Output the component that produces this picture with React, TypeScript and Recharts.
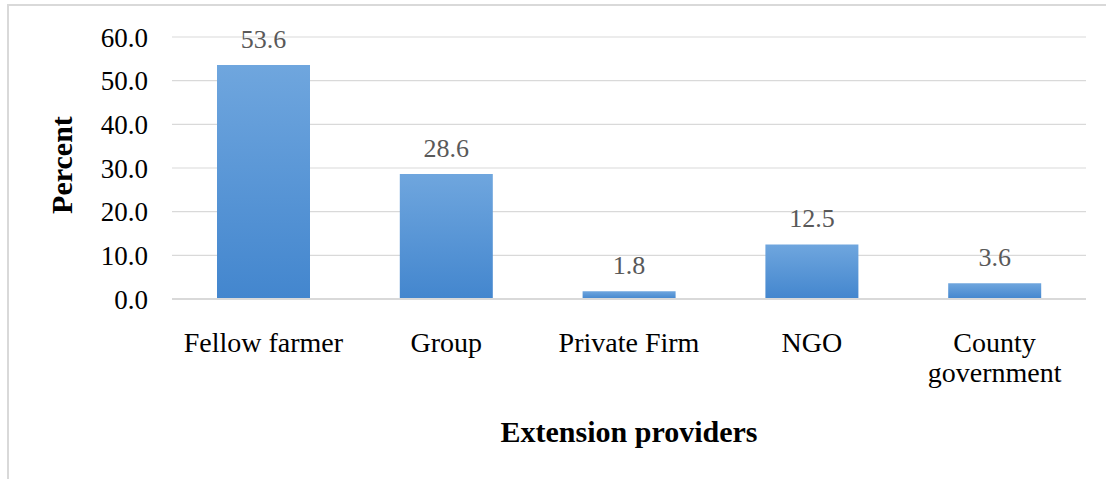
import { BarChart, Bar, XAxis, YAxis, CartesianGrid, LabelList } from "recharts";

const providers = ["Fellow farmer", "Group", "Private Firm", "NGO", "County government"];
const percents = [53.6, 28.6, 1.8, 12.5, 3.6];
const yTicks = [0, 10, 20, 30, 40, 50, 60];

const data = providers.map((name, i) => ({ name, value: percents[i] }));

const FONT = "'Liberation Serif', 'Times New Roman', serif";

function CategoryTick(props: any) {
  const { x, y, payload } = props;
  const words: string[] =
    payload.value === "County government" ? ["County", "government"] : [payload.value];
  return (
    <text x={x} y={y} textAnchor="middle" fill="#000" fontFamily={FONT} fontSize={28}>
      {words.map((w, i) => (
        <tspan key={w} x={x} dy={i === 0 ? 53 : 30}>
          {w}
        </tspan>
      ))}
    </text>
  );
}

export default function App() {
  return (
    <div style={{ position: "absolute", left: 0, top: 0, width: 1106, height: 479, background: "#fff" }}>
      <div
        style={{
          position: "absolute",
          left: 7,
          top: 4,
          width: 1110,
          height: 490,
          border: "2px solid #d9d9d9",
          boxSizing: "border-box",
        }}
      />
      <BarChart
        width={1106}
        height={479}
        data={data}
        margin={{ top: 37, right: 20, bottom: 150, left: 0 }}
        style={{ position: "absolute", left: 0, top: 0 }}
      >
        <defs>
          <linearGradient id="barFill" x1="0" y1="0" x2="0" y2="1">
            <stop offset="0%" stopColor="#6fa6de" />
            <stop offset="100%" stopColor="#4386ce" />
          </linearGradient>
        </defs>
        <CartesianGrid vertical={false} stroke="#d9d9d9" strokeWidth={1.2} />
        <XAxis
          dataKey="name"
          height={30}
          axisLine={{ stroke: "#d9d9d9", strokeWidth: 2 }}
          tickLine={false}
          tickSize={0}
          tickMargin={0}
          interval={0}
          tick={<CategoryTick />}
          label={{
            content: () => (
              <text
                x={629}
                y={442}
                textAnchor="middle"
                fontFamily={FONT}
                fontSize={30}
                fontWeight="bold"
                fill="#000"
              >
                Extension providers
              </text>
            ),
          }}
        />
        <YAxis
          width={172}
          domain={[0, 60]}
          ticks={yTicks}
          axisLine={false}
          tickLine={false}
          tickSize={0}
          tickMargin={24}
          tickFormatter={(v: number) => v.toFixed(1)}
          tick={{ fill: "#000", fontFamily: FONT, fontSize: 27 }}
          label={{
            content: () => (
              <text
                x={72}
                y={165}
                transform="rotate(-90 72 165)"
                textAnchor="middle"
                fontFamily={FONT}
                fontSize={30}
                fontWeight="bold"
                fill="#000"
              >
                Percent
              </text>
            ),
          }}
        />
        <Bar dataKey="value" fill="url(#barFill)" barSize={93} isAnimationActive={false}>
          <LabelList
            dataKey="value"
            position="top"
            offset={17}
            formatter={(v: number) => v.toFixed(1)}
            style={{ fill: "#595959", fontFamily: FONT, fontSize: 26 }}
          />
        </Bar>
      </BarChart>
    </div>
  );
}
